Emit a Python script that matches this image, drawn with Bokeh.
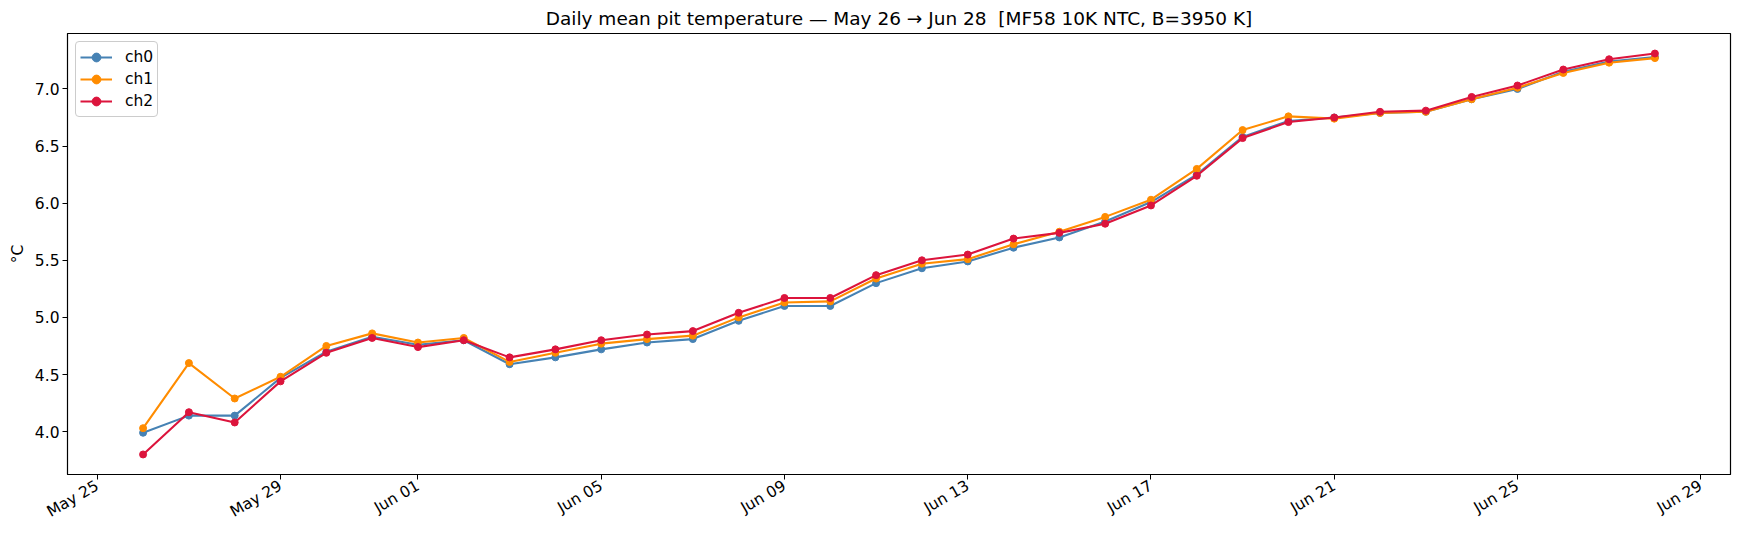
from datetime import datetime, timedelta
from math import pi

from bokeh.plotting import figure
from bokeh.models import Range1d, FixedTicker, DatetimeTickFormatter, SingleIntervalTicker, PrintfTickFormatter
from bokeh.embed import file_html
from bokeh.resources import INLINE

start_day = datetime(2024, 5, 26)
days = [start_day + timedelta(days=i) for i in range(34)]

# x tick dates (matplotlib picked days 1,5,9,...,29 of each month)
tick_dates = [datetime(2024, 5, 25), datetime(2024, 5, 29), datetime(2024, 6, 1), datetime(2024, 6, 5),
              datetime(2024, 6, 9), datetime(2024, 6, 13), datetime(2024, 6, 17), datetime(2024, 6, 21),
              datetime(2024, 6, 25), datetime(2024, 6, 29)]

ch0 = [3.99, 4.14, 4.14, 4.47, 4.70, 4.83, 4.76, 4.80, 4.59, 4.65, 4.72, 4.78, 4.81, 4.97, 5.10, 5.10, 5.30,
       5.43, 5.49, 5.61, 5.70, 5.84, 6.01, 6.25, 6.58, 6.72, 6.75, 6.79, 6.80, 6.91, 7.00, 7.15, 7.24, 7.28]
ch1 = [4.03, 4.60, 4.29, 4.48, 4.75, 4.86, 4.78, 4.82, 4.61, 4.69, 4.77, 4.81, 4.84, 5.00, 5.13, 5.14, 5.34,
       5.47, 5.51, 5.64, 5.75, 5.88, 6.03, 6.30, 6.64, 6.76, 6.74, 6.79, 6.80, 6.91, 7.01, 7.14, 7.23, 7.27]
ch2 = [3.80, 4.17, 4.08, 4.44, 4.69, 4.82, 4.74, 4.80, 4.65, 4.72, 4.80, 4.85, 4.88, 5.04, 5.17, 5.17, 5.37,
       5.50, 5.55, 5.69, 5.74, 5.82, 5.98, 6.24, 6.57, 6.71, 6.75, 6.80, 6.81, 6.93, 7.03, 7.17, 7.26, 7.31]

series = [("ch0", ch0, "steelblue"), ("ch1", ch1, "darkorange"), ("ch2", ch2, "crimson")]

FONT = "DejaVu Sans"
TICK_PX = "15.5px"

# matplotlib-like 5% margins
span = days[-1] - days[0]
x0 = days[0] - span * 0.05
x1 = days[-1] + span * 0.05
all_y = ch0 + ch1 + ch2
ylo, yhi = min(all_y), max(all_y)
ypad = (yhi - ylo) * 0.05

p = figure(width=1732, height=531, x_axis_type="datetime",
           x_range=Range1d(x0, x1), y_range=Range1d(ylo - ypad, yhi + ypad),
           output_backend="svg", toolbar_location=None,
           title="Daily mean pit temperature \u2014 May 26 \u2192 Jun 28 \u00a0[MF58 10K NTC, B=3950 K]",
           min_border_left=67, min_border_right=2, min_border_bottom=30, min_border_top=8)

p.title.align = "center"
p.title.text_font = FONT
p.title.text_font_size = "18.5px"
p.title.text_font_style = "normal"
p.title.text_color = "black"

for name, vals, color in series:
    p.line(days, vals, line_width=2.1, color=color, legend_label=name)
    p.scatter(days, vals, size=7, color=color, legend_label=name)

p.xgrid.visible = False
p.ygrid.visible = False
p.outline_line_color = "black"
p.outline_line_width = 1.2
p.outline_line_alpha = 1

p.xaxis.ticker = FixedTicker(ticks=[d.timestamp() * 1000 for d in tick_dates])
p.xaxis.formatter = DatetimeTickFormatter(days="%b %d", months="%b %d", hours="%b %d")
p.xaxis.major_label_orientation = pi / 6
p.yaxis.ticker = SingleIntervalTicker(interval=0.5)
p.yaxis.formatter = PrintfTickFormatter(format="%.1f")
p.yaxis.axis_label = "\u00b0C"

for ax in (p.xaxis, p.yaxis):
    ax.major_label_text_font = FONT
    ax.major_label_text_font_size = TICK_PX
    ax.major_label_text_color = "black"
    ax.axis_label_text_font = FONT
    ax.axis_label_text_font_size = TICK_PX
    ax.axis_label_text_font_style = "normal"
    ax.axis_label_text_color = "black"
    ax.axis_line_color = "black"
    ax.major_tick_line_color = "black"
    ax.major_tick_in = 0
    ax.major_tick_out = 5
    ax.minor_tick_line_color = None
    ax.major_label_standoff = 3

p.yaxis.axis_label_standoff = 5
p.xaxis.major_label_standoff = 5
p.xaxis.axis_label_standoff = 0

p.legend.location = "top_left"
p.legend.label_text_font = FONT
p.legend.label_text_font_size = TICK_PX
p.legend.label_text_color = "black"
p.legend.border_line_color = "#cccccc"
p.legend.border_line_alpha = 1
p.legend.border_radius = 4
p.legend.margin = 8
p.legend.padding = 4
p.legend.spacing = 0
p.legend.glyph_width = 32
p.legend.glyph_height = 22
p.legend.label_height = 22
p.legend.label_standoff = 13
p.legend.background_fill_alpha = 0.8

open("out.html", "w").write(file_html(p, INLINE))
